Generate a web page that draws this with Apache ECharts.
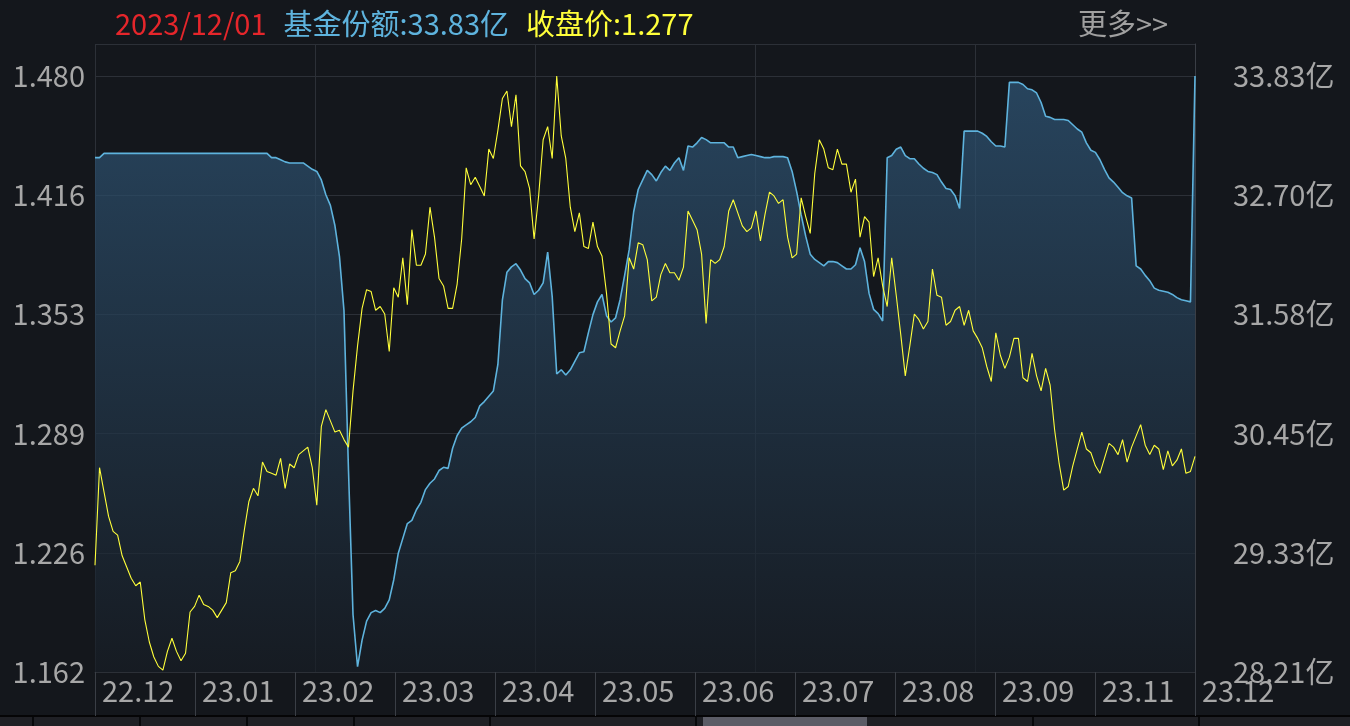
<!DOCTYPE html>
<html><head><meta charset="utf-8">
<script src="https://cdn.jsdelivr.net/npm/echarts@6/dist/echarts.min.js"></script>
<style>html,body{margin:0;padding:0;background:#14171c;}#c{width:1350px;height:726px;}</style>
</head><body><div id="c"></div>
<script>
const lastDate = '2023/12/01';
const monthLabels = ['22.12','23.01','23.02','23.03','23.04','23.05','23.06','23.07','23.08','23.09','23.11','23.12'];
const priceTicks = ['1.162','1.226','1.289','1.353','1.416','1.480'];
const shareTicks = ['28.21亿','29.33亿','30.45亿','31.58亿','32.70亿','33.83亿'];

const priceValues = [
1.219,1.271,1.258,1.245,1.237,1.235,1.224,1.218,1.212,1.208,
1.210,1.190,1.178,1.170,1.165,1.163,1.173,1.180,1.173,1.168,
1.172,1.194,1.197,1.203,1.198,1.197,1.195,1.191,1.195,1.199,
1.215,1.216,1.221,1.238,1.253,1.260,1.256,1.274,1.269,1.268,
1.267,1.276,1.260,1.273,1.271,1.278,1.280,1.282,1.271,1.251,
1.293,1.302,1.296,1.290,1.291,1.286,1.282,1.312,1.336,1.356,
1.366,1.365,1.355,1.357,1.353,1.333,1.367,1.362,1.383,1.358,
1.398,1.379,1.379,1.385,1.410,1.394,1.372,1.368,1.356,1.356,
1.369,1.393,1.431,1.422,1.426,1.421,1.416,1.441,1.436,1.451,
1.468,1.472,1.453,1.470,1.432,1.429,1.420,1.393,1.416,1.446,
1.453,1.436,1.480,1.448,1.436,1.410,1.397,1.407,1.389,1.388,
1.402,1.389,1.384,1.364,1.337,1.335,1.344,1.352,1.383,1.377,
1.391,1.390,1.382,1.360,1.362,1.374,1.380,1.375,1.375,1.371,
1.378,1.408,1.403,1.398,1.385,1.348,1.382,1.380,1.382,1.389,
1.408,1.414,1.407,1.400,1.397,1.399,1.408,1.392,1.406,1.418,
1.416,1.412,1.414,1.394,1.383,1.385,1.415,1.405,1.396,1.428,
1.446,1.441,1.431,1.430,1.441,1.433,1.433,1.418,1.425,1.394,
1.405,1.402,1.373,1.383,1.368,1.357,1.383,1.363,1.342,1.320,
1.336,1.353,1.350,1.345,1.349,1.377,1.363,1.362,1.347,1.349,
1.355,1.357,1.347,1.355,1.344,1.340,1.335,1.325,1.317,1.343,
1.331,1.324,1.330,1.340,1.340,1.319,1.317,1.332,1.320,1.312,
1.324,1.315,1.291,1.273,1.259,1.261,1.272,1.281,1.290,1.281,
1.279,1.272,1.268,1.276,1.284,1.282,1.278,1.286,1.274,1.282,
1.288,1.294,1.283,1.278,1.283,1.281,1.270,1.280,1.272,1.275,
1.281,1.268,1.269,1.277
];

const shareValues = [
33.06,33.06,33.10,33.10,33.10,33.10,33.10,33.10,33.10,33.10,
33.10,33.10,33.10,33.10,33.10,33.10,33.10,33.10,33.10,33.10,
33.10,33.10,33.10,33.10,33.10,33.10,33.10,33.10,33.10,33.10,
33.10,33.10,33.10,33.10,33.10,33.10,33.10,33.10,33.10,33.06,
33.06,33.04,33.02,33.01,33.01,33.01,33.01,32.98,32.95,32.93,
32.85,32.71,32.61,32.42,32.13,31.62,30.11,28.75,28.26,28.51,
28.69,28.77,28.79,28.77,28.81,28.89,29.08,29.33,29.47,29.61,
29.64,29.74,29.81,29.93,29.99,30.03,30.11,30.14,30.13,30.32,
30.44,30.51,30.54,30.57,30.61,30.72,30.76,30.81,30.86,31.11,
31.72,31.98,32.03,32.06,32.00,31.92,31.88,31.77,31.81,31.88,
32.17,31.75,31.02,31.06,31.01,31.06,31.14,31.22,31.23,31.41,
31.58,31.70,31.77,31.57,31.51,31.55,31.72,31.95,32.19,32.55,
32.76,32.85,32.94,32.90,32.84,32.92,32.98,32.94,33.01,33.06,
32.94,33.17,33.16,33.20,33.25,33.23,33.20,33.20,33.20,33.20,
33.16,33.16,33.06,33.07,33.08,33.09,33.08,33.07,33.06,33.06,
33.07,33.07,33.07,33.06,32.93,32.74,32.52,32.32,32.15,32.10,
32.07,32.04,32.08,32.08,32.07,32.04,32.01,32.01,32.05,32.21,
32.08,31.78,31.63,31.59,31.52,33.06,33.08,33.14,33.16,33.08,
33.05,33.05,33.00,32.96,32.93,32.92,32.90,32.83,32.77,32.76,
32.70,32.58,33.31,33.31,33.31,33.31,33.29,33.26,33.21,33.17,
33.17,33.16,33.77,33.77,33.77,33.75,33.71,33.70,33.67,33.58,
33.45,33.44,33.42,33.42,33.42,33.41,33.37,33.33,33.30,33.20,
33.13,33.11,33.04,32.95,32.87,32.83,32.78,32.73,32.70,32.68,
32.04,32.01,31.95,31.90,31.83,31.81,31.80,31.79,31.77,31.74,
31.72,31.71,31.70,33.83
];

const FONT = '"Noto Sans CJK SC", "Noto Sans", sans-serif';
const GRID_COLOR = '#2c3037';
const LABEL_COLOR = '#a7a7a7';
const BLUE = '#5eb3dd';
const YELLOW = '#ffff3a';
const FS = 29;

// axis extents: tick step matched to the label spacing; top border sits above the last tick
const steps = 628 / 119.2;
const priceMin = 1.162, priceStep = 0.0636;
const shareMin = 28.21, shareStep = 1.124;

const chart = echarts.init(document.getElementById('c'), null, {renderer: 'canvas'});
const lastShare = shareValues[shareValues.length - 1].toFixed(2);
const lastPrice = priceValues[priceValues.length - 1].toFixed(3);
const idx = priceValues.map((_, i) => i);

chart.setOption({
  backgroundColor: '#14171c',
  animation: false,
  title: [{
    left: 110, top: 0,
    text: '{d|' + lastDate + '}{s|基金份额:' + lastShare + '亿}{p|收盘价:' + lastPrice + '}',
    textStyle: {
      fontFamily: FONT, fontSize: FS, fontWeight: 'normal', lineHeight: 38,
      rich: {
        d: {color: '#e5262b', fontFamily: FONT, fontSize: FS, fontWeight: 'normal', padding: [0, 17, 0, 0]},
        s: {color: BLUE, fontFamily: FONT, fontSize: FS, fontWeight: 'normal', padding: [0, 17, 0, 0]},
        p: {color: YELLOW, fontFamily: FONT, fontSize: FS, fontWeight: 'normal'}
      }
    }
  }, {
    left: 1073, top: 0,
    text: '更多>>',
    textStyle: {color: '#a0a0a0', fontFamily: FONT, fontSize: FS, fontWeight: 'normal', lineHeight: 38}
  }],
  grid: {left: 95, right: 155, top: 44, bottom: 54, containLabel: false},
  xAxis: [
    {type: 'category', data: idx, boundaryGap: false, show: false},
    {type: 'value', min: 0, max: 5, interval: 1, axisLine: {show: false}, axisTick: {show: false},
     axisLabel: {show: false}, splitLine: {show: true, lineStyle: {color: GRID_COLOR, width: 1}}},
    {type: 'value', position: 'bottom', min: 0, max: 11, interval: 1,
     axisLine: {show: true, lineStyle: {color: GRID_COLOR, width: 1}},
     axisTick: {show: true, length: 44, lineStyle: {color: '#3a3e45', width: 1}},
     splitLine: {show: false},
     axisLabel: {show: true, showMaxLabel: true, color: LABEL_COLOR, fontFamily: FONT, fontSize: FS,
       align: 'left', verticalAlign: 'middle', margin: 19, padding: [0, 0, 0, 7],
       formatter: v => (Number.isInteger(v) && monthLabels[v] !== undefined) ? monthLabels[v] : ''}}
  ],
  yAxis: [
    {type: 'value', min: priceMin, max: priceMin + steps * priceStep, show: false},
    {type: 'value', min: shareMin, max: shareMin + steps * shareStep, show: false},
    {type: 'value', position: 'left', min: 0, max: steps, interval: 1,
     axisLine: {show: false}, axisTick: {show: false},
     splitLine: {show: true, lineStyle: {color: GRID_COLOR, width: 1}},
     axisLabel: {show: true, showMaxLabel: false, color: LABEL_COLOR, fontFamily: FONT, fontSize: FS, margin: 10,
       formatter: v => (Number.isInteger(v) && priceTicks[v] !== undefined) ? priceTicks[v] : ''}},
    {type: 'value', position: 'right', min: 0, max: steps, interval: 1,
     axisLine: {show: true, lineStyle: {color: '#3a3e45'}}, axisTick: {show: false}, splitLine: {show: false},
     axisLabel: {show: true, showMaxLabel: false, color: LABEL_COLOR, fontFamily: FONT, fontSize: FS, margin: 38,
       formatter: v => (Number.isInteger(v) && shareTicks[v] !== undefined) ? shareTicks[v] : ''}}
  ],
  series: [
    {name: '基金份额', type: 'line', xAxisIndex: 0, yAxisIndex: 1, data: shareValues,
     showSymbol: false, symbol: 'none', smooth: false,
     lineStyle: {color: BLUE, width: 1.6},
     areaStyle: {origin: 'start', color: new echarts.graphic.LinearGradient(0, 0, 0, 1, [
       {offset: 0, color: '#30587a'}, {offset: 1, color: '#171d25'}])},
     z: 2},
    {name: '收盘价', type: 'line', xAxisIndex: 0, yAxisIndex: 0, data: priceValues,
     showSymbol: false, symbol: 'none', smooth: false,
     lineStyle: {color: YELLOW, width: 1.1}, z: 3}
  ],
  graphic: [
    {type: 'rect', left: 0, top: 716, shape: {width: 1350, height: 10}, style: {fill: '#1f2025'}, silent: true},
    {type: 'rect', left: 0, top: 715, shape: {width: 1350, height: 2}, style: {fill: '#050506'}, silent: true},
    {type: 'rect', left: 703, top: 717, shape: {width: 164, height: 9}, style: {fill: '#5b5c66'}, silent: true},
    {type: 'group', silent: true, children: [32, 139, 246, 353, 489, 695, 1032, 1198].map(x => ({
      type: 'rect', x: x, y: 717, shape: {width: 2, height: 9}, style: {fill: '#08090b'}}))}
  ]
});
</script>
</body></html>
